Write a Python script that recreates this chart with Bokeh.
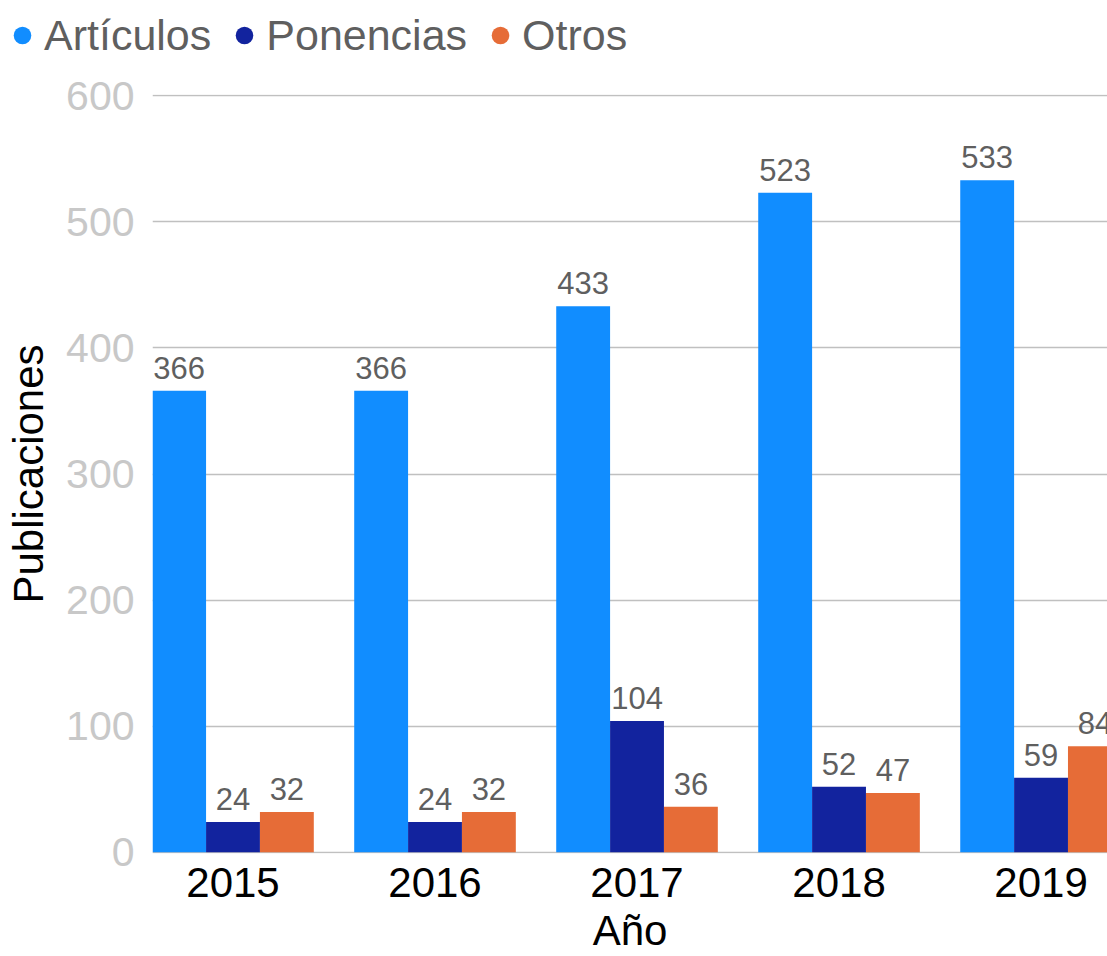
from bokeh.plotting import figure
from bokeh.layouts import column
from bokeh.models import (ColumnDataSource, FixedTicker, LabelSet, Legend, LegendItem,
                          Range1d)
from bokeh.core.properties import value
from bokeh.embed import file_html
from bokeh.resources import INLINE

# ---- data ----
years = ["2015", "2016", "2017", "2018", "2019"]
articulos = [366, 366, 433, 523, 533]
ponencias = [24, 24, 104, 52, 59]
otros = [32, 32, 36, 47, 84]
series_names = ["Artículos", "Ponencias", "Otros"]
series_colors = ["#118DFF", "#12239E", "#E66C37"]
y_ticks = [0, 100, 200, 300, 400, 500, 600]

FONT = "Liberation Sans"
bar_w = 0.8 / 3
offsets = [-bar_w, 0.0, bar_w]

# ---- legend strip ----
lg = figure(width=1107, height=60, output_backend="svg", toolbar_location=None,
            x_range=Range1d(0, 1), y_range=Range1d(0, 1),
            x_axis_location=None, y_axis_location=None,
            min_border=0, min_border_left=0, min_border_right=0,
            min_border_top=0, min_border_bottom=0, outline_line_color=None)
lg.grid.visible = False
lg.frame_align = False

# ---- main chart ----
p = figure(width=1107, height=896, output_backend="svg", toolbar_location=None,
           x_range=Range1d(-0.3985, 4.329), y_range=Range1d(-1, 601),
           min_border_left=152, min_border_right=0, min_border_top=34,
           min_border_bottom=103, outline_line_color=None)
p.frame_align = False

idx = list(range(len(years)))
legend_items = []
for vals, off, col, name in zip([articulos, ponencias, otros], offsets, series_colors, series_names):
    src = ColumnDataSource(dict(x=[i + off for i in idx], top=vals,
                                lab=[str(v) for v in vals]))
    p.vbar(x="x", bottom=0, top="top", width=bar_w, source=src, fill_color=col, line_color=None)
    p.add_layout(LabelSet(x="x", y="top", text="lab", source=src, y_offset=12,
                          text_align="center", text_baseline="alphabetic",
                          text_font=value(FONT), text_font_size=value("31px"),
                          text_color="#5F5F5F"))
    dummy = lg.scatter(x="x", y="top", source=src, marker="circle", size=10,
                       fill_color=col, line_color=None, visible=False)
    legend_items.append(LegendItem(label=name, renderers=[dummy]))

legend = Legend(items=legend_items, orientation="horizontal", location=(0, 0),
                glyph_width=44, glyph_height=50, label_standoff=0, spacing=11,
                padding=0, margin=0, border_line_color=None, background_fill_alpha=0,
                label_text_font=FONT, label_text_font_size="43px",
                label_text_color="#5F5F5F")
lg.add_layout(legend, "center")

# axes
p.xaxis.ticker = FixedTicker(ticks=idx)
p.xaxis.major_label_overrides = {i: y for i, y in zip(idx, years)}
p.yaxis.ticker = FixedTicker(ticks=y_ticks)
p.xaxis.axis_label = "Año"
p.yaxis.axis_label = "Publicaciones"
for ax in (p.xaxis, p.yaxis):
    ax.axis_line_color = None
    ax.major_tick_line_color = None
    ax.minor_tick_line_color = None
    ax.major_tick_out = 0
    ax.axis_label_text_font = FONT
    ax.axis_label_text_font_size = "42px"
    ax.axis_label_text_font_style = "normal"
    ax.axis_label_text_color = "#000000"
    ax.major_label_text_font = FONT
p.xaxis.major_label_text_font_size = "42px"
p.xaxis.major_label_text_color = "#000000"
p.xaxis.major_label_standoff = 14
p.xaxis.axis_label_standoff = 7
p.yaxis.major_label_text_font_size = "41px"
p.yaxis.major_label_text_color = "#C8C8C8"
p.yaxis.major_label_standoff = 18
p.yaxis.axis_label_standoff = 11

p.xgrid.grid_line_color = None
p.ygrid.ticker = FixedTicker(ticks=y_ticks)
p.ygrid.grid_line_color = "#C0C0C0"
p.ygrid.grid_line_width = 1.5

open("out.html", "w").write(file_html(column(lg, p, spacing=0), INLINE))
